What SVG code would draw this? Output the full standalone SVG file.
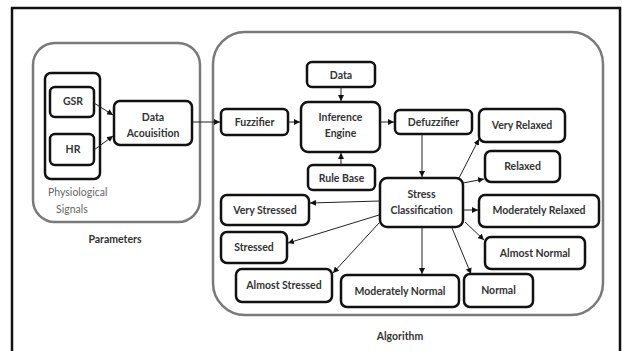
<svg xmlns="http://www.w3.org/2000/svg" width="622" height="351" viewBox="0 0 622 351">
<defs>
<marker id="ah" viewBox="0 0 10 10" refX="10" refY="5" markerWidth="6" markerHeight="6" markerUnits="userSpaceOnUse" orient="auto">
<path d="M0,0 L10,5 L0,10 z" fill="#111"/>
</marker>
<style>
.node{fill:#fff;stroke:#111;stroke-width:2.5}
.grp{fill:none;stroke:#7a7a7a;stroke-width:2.5}
.t{font-family:Lato,"Liberation Sans",sans-serif;font-size:10.5px;font-weight:bold;fill:#333;text-anchor:middle}
.tg{font-family:Lato,"Liberation Sans",sans-serif;font-size:10.5px;fill:#666}
.e{stroke:#222;stroke-width:1;fill:none;marker-end:url(#ah)}
</style>
</defs>
<rect x="0" y="0" width="622" height="351" fill="#fff"/>
<rect x="12" y="8" width="608" height="360" fill="#fff" stroke="#111" stroke-width="2.5"/>

<g id="parameters">
<rect class="grp" x="33" y="43" width="167" height="179" rx="22"/>
<text class="t" x="115" y="243">Parameters</text>
</g>
<g id="physiological-signals">
<rect x="45" y="73" width="55" height="106" rx="6" fill="none" stroke="#111" stroke-width="2.5"/>
<text class="tg" x="48" y="196">Physiological</text>
<text class="tg" x="56" y="213">Signals</text>
</g>
<g id="gsr"><rect class="node" x="50" y="87" width="44" height="30" rx="5"/><text class="t" x="73" y="105">GSR</text></g>
<g id="hr"><rect class="node" x="50" y="134" width="44" height="31" rx="5"/><text class="t" x="73" y="153">HR</text></g>
<g id="data-acquisition"><rect class="node" x="114" y="101" width="78" height="44" rx="6"/><text class="t" x="153" y="121">Data</text><text class="t" x="153" y="137">Acouisition</text></g>

<g id="algorithm">
<rect class="grp" x="213" y="32" width="390" height="283" rx="32"/>
<text class="t" x="400" y="340">Algorithm</text>
</g>
<g id="data"><rect class="node" x="307" y="62" width="68" height="25" rx="5"/><text class="t" x="341" y="79">Data</text></g>
<g id="inference-engine"><rect class="node" x="301" y="102" width="79" height="50" rx="7"/><text class="t" x="340.5" y="121">Inference</text><text class="t" x="340.5" y="137">Engine</text></g>
<g id="fuzzifier"><rect class="node" x="221" y="109" width="67" height="26" rx="5"/><text class="t" x="254.5" y="126">Fuzzifier</text></g>
<g id="rule-base"><rect class="node" x="308" y="165" width="67" height="25" rx="5"/><text class="t" x="341.5" y="182">Rule Base</text></g>
<g id="defuzzifier"><rect class="node" x="395" y="110" width="77" height="24" rx="5"/><text class="t" x="433.5" y="126">Defuzzifier</text></g>
<g id="stress-classification"><rect class="node" x="380" y="178" width="83" height="49" rx="7"/><text class="t" x="421.5" y="198">Stress</text><text class="t" x="421.5" y="214">Classification</text></g>
<g id="very-relaxed"><rect class="node" x="479" y="109" width="86" height="33" rx="6"/><text class="t" x="522" y="129">Very Relaxed</text></g>
<g id="relaxed"><rect class="node" x="485" y="151" width="75" height="31" rx="6"/><text class="t" x="522.5" y="170">Relaxed</text></g>
<g id="moderately-relaxed"><rect class="node" x="479" y="195" width="120" height="32" rx="6"/><text class="t" x="539" y="214">Moderately Relaxed</text></g>
<g id="almost-normal"><rect class="node" x="485" y="237" width="100" height="32" rx="6"/><text class="t" x="535" y="257">Almost Normal</text></g>
<g id="normal"><rect class="node" x="464" y="274" width="69" height="33" rx="6"/><text class="t" x="498.5" y="294">Normal</text></g>
<g id="moderately-normal"><rect class="node" x="341" y="275" width="118" height="32" rx="6"/><text class="t" x="400" y="295">Moderately Normal</text></g>
<g id="almost-stressed"><rect class="node" x="236" y="269" width="96" height="33" rx="6"/><text class="t" x="284" y="289">Almost Stressed</text></g>
<g id="stressed"><rect class="node" x="221" y="232" width="66" height="31" rx="6"/><text class="t" x="254" y="251">Stressed</text></g>
<g id="very-stressed"><rect class="node" x="221" y="195" width="88" height="30" rx="6"/><text class="t" x="265" y="214">Very Stressed</text></g>

<g id="connectors">
<line class="e" x1="94" y1="103" x2="113" y2="115"/>
<line class="e" x1="94" y1="150" x2="113" y2="136"/>
<line class="e" x1="192" y1="122" x2="220" y2="122"/>
<line class="e" x1="288" y1="122" x2="300" y2="122"/>
<line class="e" x1="341" y1="87" x2="341" y2="101"/>
<line class="e" x1="341" y1="165" x2="341" y2="153"/>
<line class="e" x1="380" y1="122" x2="394" y2="122"/>
<line class="e" x1="422" y1="134" x2="422" y2="177"/>
<line class="e" x1="459" y1="178" x2="479" y2="139"/>
<line class="e" x1="463" y1="183" x2="484" y2="179"/>
<line class="e" x1="463" y1="210" x2="478" y2="210"/>
<line class="e" x1="465" y1="222" x2="484" y2="240"/>
<line class="e" x1="452" y1="228" x2="471" y2="274"/>
<line class="e" x1="422" y1="227" x2="422" y2="274"/>
<line class="e" x1="380" y1="201" x2="310" y2="203"/>
<line class="e" x1="379" y1="215" x2="288" y2="243"/>
<line class="e" x1="379" y1="223" x2="333" y2="273"/>
</g>
</svg>
